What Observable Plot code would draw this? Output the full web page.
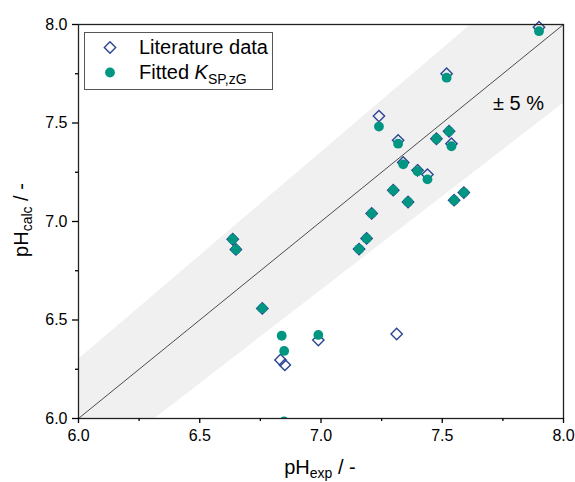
<!DOCTYPE html>
<html><head><meta charset="utf-8">
<script src="https://cdn.jsdelivr.net/npm/d3@7"></script>
<script src="https://cdn.jsdelivr.net/npm/@observablehq/plot@0.6"></script>
<style>
body{margin:0;background:#fff;}
#chart{width:575px;height:482px;}
</style></head><body><div id="chart"></div>
<script>
// Literature data (pH_exp, pH_calc)
const pHexpLit  = [7.899,7.518,7.239,7.318,7.476,7.528,7.538,7.339,7.398,7.439,7.298,7.359,7.549,7.589,7.209,7.188,7.157,6.636,6.649,6.758,6.833,6.851,6.989,7.312];
const pHcalcLit = [7.986,7.750,7.535,7.412,7.420,7.458,7.395,7.300,7.260,7.238,7.159,7.099,7.108,7.147,7.041,6.914,6.860,6.910,6.858,6.559,6.297,6.272,6.398,6.429];
// Fitted K_SP,zG (pH_exp, pH_calc)
const pHexpFit  = [7.899,7.518,7.239,7.318,7.476,7.528,7.538,7.339,7.398,7.439,7.298,7.359,7.549,7.589,7.209,7.188,7.157,6.636,6.649,6.758,6.838,6.848,6.989,6.848];
const pHcalcFit = [7.966,7.730,7.482,7.395,7.420,7.458,7.382,7.290,7.255,7.214,7.159,7.099,7.108,7.147,7.041,6.914,6.860,6.910,6.858,6.559,6.420,6.343,6.424,5.985];
const majorTicks = [6.0,6.5,7.0,7.5,8.0];
const minorTicks = [6.25,6.75,7.25,7.75];
const bandX = [6.0,8.0];
const bandTol = 0.05;

const lit = pHexpLit.map((x,i)=>({x, y:pHcalcLit[i]}));
const fit = pHexpFit.map((x,i)=>({x, y:pHcalcFit[i]}));
const teal = "#009682", navy = "#2b4590";
const FONT = "'Liberation Sans', Arial, sans-serif";

const chart = Plot.plot({
  width:575, height:482,
  marginLeft:78, marginRight:12, marginTop:24, marginBottom:64,
  style:{fontFamily:FONT, fontSize:"16px", color:"#000", background:"#fff"},
  x:{domain:[6,8], label:null},
  y:{domain:[6,8], label:null},
  marks:[
    Plot.areaY(bandX,{x:d=>d, y1:d=>d*(1-bandTol), y2:d=>d*(1+bandTol), fill:"#f0f0f0", clip:true}),
    Plot.line(bandX,{x:d=>d, y:d=>d, stroke:"#222", strokeWidth:0.8}),
    Plot.dot(lit,{x:"x", y:"y", symbol:"diamond2", r:5.1, stroke:navy, strokeWidth:1.4, fill:"none"}),
    Plot.dot(fit,{x:"x", y:"y", symbol:"circle", r:4.9, fill:teal, clip:true}),
    Plot.frame({stroke:"#222", strokeWidth:1.3}),
    Plot.axisX(majorTicks,{tickSize:5, tickPadding:6, tickFormat:d=>d.toFixed(1), label:null, strokeWidth:1.3, fontSize:16}),
    Plot.axisX(minorTicks,{tickSize:3, tickFormat:()=>"", label:null, strokeWidth:1.3}),
    Plot.axisY(majorTicks,{tickSize:6, tickPadding:5, tickFormat:d=>d.toFixed(1), label:null, strokeWidth:1.3, fontSize:16}),
    Plot.axisY(minorTicks,{tickSize:3, tickFormat:()=>"", label:null, strokeWidth:1.3})
  ]
});
document.getElementById("chart").appendChild(chart);

const svg = d3.select(chart);
// axis titles
const xl = svg.append("text").attr("x",320).attr("y",474).attr("text-anchor","middle")
  .attr("font-family",FONT).attr("font-size",20).attr("fill","#000");
xl.append("tspan").text("pH");
xl.append("tspan").attr("font-size",14).attr("dy",4).text("exp");
xl.append("tspan").attr("dy",-4).text(" / -");

const yl = svg.append("text").attr("transform","translate(28,220) rotate(-90)").attr("text-anchor","middle")
  .attr("font-family",FONT).attr("font-size",20).attr("fill","#000");
yl.append("tspan").text("pH");
yl.append("tspan").attr("font-size",14).attr("dy",4).text("calc");
yl.append("tspan").attr("dy",-4).text(" / -");

// ±5 % annotation
svg.append("text").attr("x",493).attr("y",110).attr("text-anchor","start").attr("font-family",FONT).attr("font-size",20)
  .attr("fill","#000").text("± 5 %");

// legend
const lg = svg.append("g");
lg.append("rect").attr("x",84.5).attr("y",32.5).attr("width",188).attr("height",57)
  .attr("fill","#fff").attr("stroke","#555").attr("stroke-width",1);
lg.append("path").attr("d",d3.symbol(d3.symbolDiamond2, Math.PI*5.1*5.1)()).attr("transform","translate(110,47.5)")
  .attr("fill","none").attr("stroke",navy).attr("stroke-width",1.4);
lg.append("circle").attr("cx",110).attr("cy",72.5).attr("r",4.9).attr("fill",teal);
lg.append("text").attr("x",139).attr("y",53.5).attr("text-anchor","start").attr("font-family",FONT).attr("font-size",20).attr("fill","#000").text("Literature data");
const t2 = lg.append("text").attr("x",139).attr("y",79).attr("text-anchor","start").attr("font-family",FONT).attr("font-size",20).attr("fill","#000");
t2.append("tspan").text("Fitted ");
t2.append("tspan").attr("font-style","italic").text("K");
t2.append("tspan").attr("font-size",14).attr("dy",5).text("SP,zG");
</script>
</body></html>
